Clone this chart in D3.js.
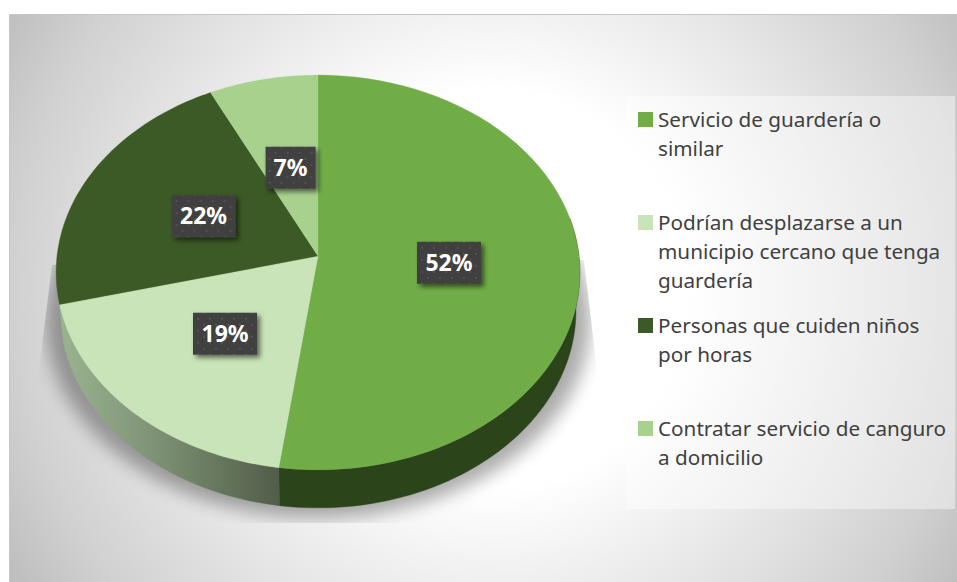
<!DOCTYPE html>
<html><head><meta charset="utf-8">
<script src="https://cdn.jsdelivr.net/npm/d3@7"></script>
<style>html,body{margin:0;padding:0;background:#fff}svg{display:block}</style>
</head><body><div id="c"></div>
<script>
const categories = ["Servicio de guardería o similar","Podrían desplazarse a un municipio cercano que tenga guardería","Personas que cuiden niños por horas","Contratar servicio de canguro a domicilio"];
const values = [52.2,18.9,21.6,7.3];
const legendLines = [["Servicio de guardería o","similar"],["Podrían desplazarse a un","municipio cercano que tenga","guardería"],["Personas que cuiden niños","por horas"],["Contratar servicio de canguro","a domicilio"]];
const colors = ["#70ad47","#c8e4b8","#3c5a25","#a9d18e"];

const W=957,H=582;
const svg=d3.select("#c").append("svg").attr("width",W).attr("height",H).attr("font-family","'Noto Sans',sans-serif");
const defs=svg.append("defs");

const bg=defs.append("radialGradient").attr("id","bg").attr("gradientUnits","userSpaceOnUse")
 .attr("cx",490).attr("cy",290).attr("r",553);
[[0,"#ffffff"],[.36,"#ffffff"],[.5,"#f2f2f2"],[.7,"#e0e0e0"],[.87,"#d0d0d0"],[1,"#bfbfbf"]].forEach(d=>bg.append("stop").attr("offset",d[0]).attr("stop-color",d[1]));
const wg=defs.append("linearGradient").attr("id","wall19").attr("gradientUnits","userSpaceOnUse").attr("x1",60).attr("x2",281).attr("y1",0).attr("y2",0);
[[0,"#9ab38f"],[.35,"#84997c"],[.7,"#68795e"],[1,"#515b49"]].forEach(d=>wg.append("stop").attr("offset",d[0]).attr("stop-color",d[1]));
const blur=defs.append("filter").attr("id","blur").attr("x","-20%").attr("y","-20%").attr("width","140%").attr("height","140%");
blur.append("feGaussianBlur").attr("stdDeviation",9);
const ds=defs.append("filter").attr("id","ds").attr("x","-30%").attr("y","-30%").attr("width","170%").attr("height","170%");
ds.append("feDropShadow").attr("dx",3).attr("dy",3).attr("stdDeviation",2.5).attr("flood-color","#000").attr("flood-opacity",.55);
const pat=defs.append("pattern").attr("id","dots").attr("width",12).attr("height",12).attr("patternUnits","userSpaceOnUse");
pat.append("rect").attr("width",12).attr("height",12).attr("fill","#3f3f3f");
[[3,3],[9,9]].forEach(p=>pat.append("circle").attr("cx",p[0]).attr("cy",p[1]).attr("r",1.1).attr("fill","#565656"));
defs.append("clipPath").attr("id","sc").append("polygon").attr("points","52,265 39,370 39,523 597,523 597,370 584,260");

svg.append("rect").attr("x",9.5).attr("y",14.5).attr("width",W).attr("height",H).attr("fill","url(#bg)").attr("stroke","#c6c6c6");

// perspective projection of the pie disc
const cx=318,cy=256,R=261,A=196,k=0.0835,depth=38,narrow=.985;
const proj=(t,r=1,dy=0,sx=1)=>{const s=Math.sin(t)*r,c=Math.cos(t)*r,d=1+k*c;return [cx+sx*R*s/d,cy-A*c/d+dy];};
const line=d3.line();
const pie=d3.pie().sort(null).value(d=>d)(values);
const samples=(a,b,dy=0,sx=1)=>d3.range(0,65).map(i=>proj(a+(b-a)*i/64,1,dy,sx));

// shadow
svg.append("g").attr("clip-path","url(#sc)").append("path")
 .attr("d",line(samples(0,2*Math.PI,depth+10,1.04))+"Z")
 .attr("fill","#000").attr("opacity",.33).attr("filter","url(#blur)");

// walls: only the slices that face the viewer show one
const wallFill=["#2c441a","url(#wall19)"];
pie.filter(p=>p.startAngle<1.25*Math.PI).forEach((p,i)=>{
 const a=Math.max(p.startAngle,Math.PI/2-.2),b=p.endAngle;
 svg.append("path").attr("d",line(samples(a,b).concat(samples(a,b,depth,narrow).reverse()))+"Z").attr("fill",wallFill[i]).attr("stroke",wallFill[i]).attr("stroke-width",.4);
});
// top faces
svg.append("g").selectAll("path").data(pie).join("path")
 .attr("d",p=>line([[cx,cy]].concat(samples(p.startAngle,p.endAngle)))+"Z")
 .attr("fill",(p,i)=>colors[i]).attr("stroke",(p,i)=>colors[i]).attr("stroke-width",.3);

// legend
svg.append("rect").attr("x",626).attr("y",96).attr("width",329).attr("height",413).attr("fill","#fff").attr("opacity",.42);
const legendTop=[127,230,333,436];
const lg=svg.append("g").selectAll("g").data(categories).join("g").attr("transform",(d,i)=>`translate(638,${legendTop[i]})`);
lg.append("rect").attr("y",-15).attr("width",15).attr("height",15).attr("fill",(d,i)=>colors[i]);
lg.each(function(d,i){
 d3.select(this).selectAll("text").data(legendLines[i]).join("text")
  .attr("x",20).attr("y",(l,j)=>j*29).attr("font-size",20.7).attr("fill","#404040").text(l=>l);
});

// data labels
const lab=svg.append("g").selectAll("g").data(pie).join("g").attr("transform",p=>{
 const m=(p.startAngle+p.endAngle)/2;const e=proj(m);
 return `translate(${cx+(e[0]-cx)*.5},${cy+(e[1]-cy)*.5})`;});
lab.append("rect").attr("x",p=>p.value<10?-25:-32).attr("y",-21).attr("width",p=>p.value<10?50:64).attr("height",42).attr("fill","url(#dots)").attr("filter","url(#ds)");
lab.append("text").attr("text-anchor","middle").attr("y",8).attr("font-size",23).attr("font-weight",700).attr("fill","#fff").text(p=>Math.round(p.value)+"%");
</script></body></html>
